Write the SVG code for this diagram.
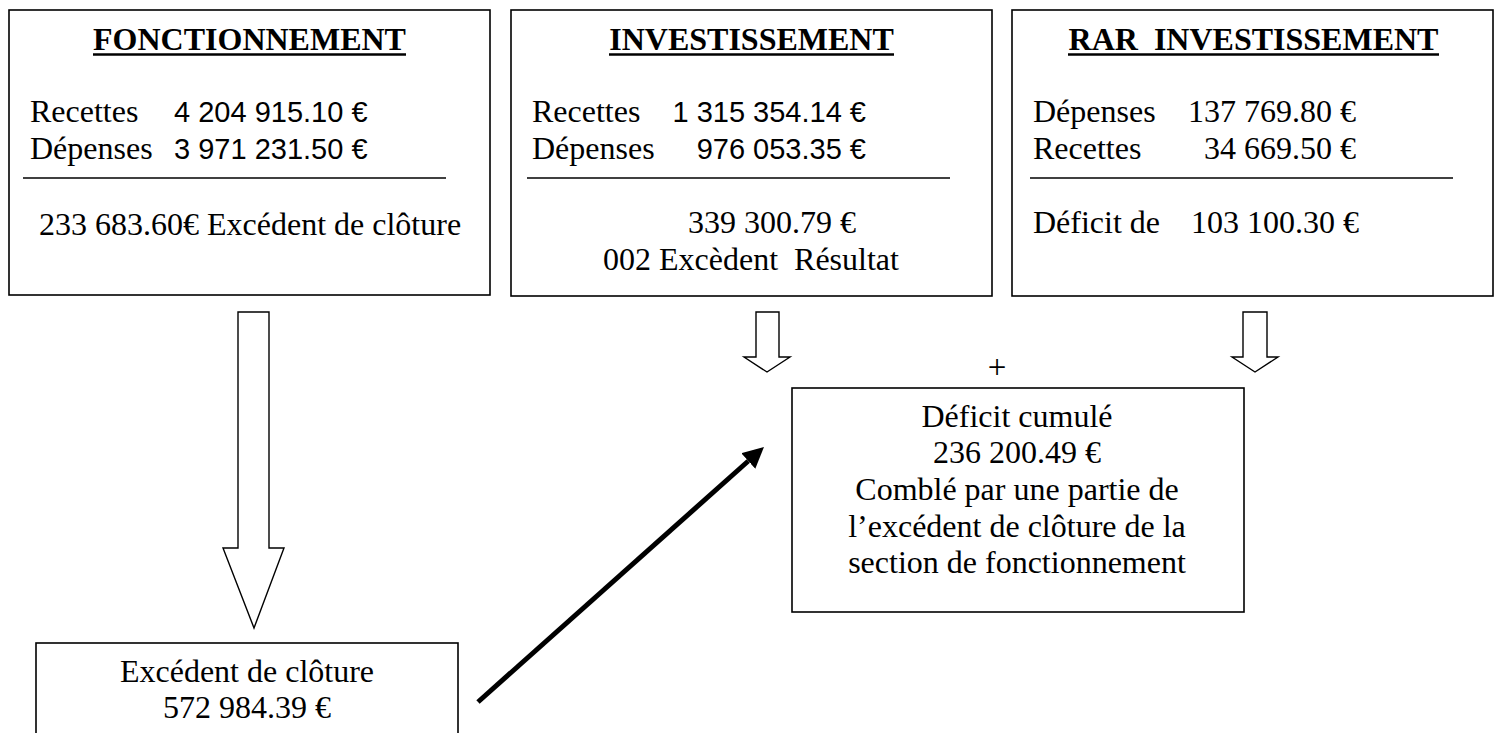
<svg xmlns="http://www.w3.org/2000/svg" width="1499" height="733" viewBox="0 0 1499 733">
<style>
.box{fill:#fff;stroke:#000;stroke-width:1.6}
.rule{stroke:#000;stroke-width:1.6}
.ul{stroke:#000;stroke-width:2.6}
.t{font-family:"Liberation Serif","Times New Roman",serif;font-size:32px;fill:#000;white-space:pre}
.b{font-weight:bold}
.s{font-family:"Liberation Sans",Arial,sans-serif;font-size:29px;fill:#000;white-space:pre}
.m{text-anchor:middle}
.e{text-anchor:end}
.hollow{fill:#fff;stroke:#000;stroke-width:1.4;stroke-linejoin:miter}
</style>
<defs>
<marker id="ah" markerWidth="21" markerHeight="21" refX="0" refY="10.5" orient="auto" markerUnits="userSpaceOnUse">
<path d="M0,0 L21,10.5 L0,21 Z" fill="#000"/>
</marker>
</defs>
<rect width="1499" height="733" fill="#fff"/>

<g id="fonctionnement">
<rect class="box" x="9" y="10" width="481" height="285"/>
<text class="t b m" x="249.5" y="50">FONCTIONNEMENT</text>
<line class="ul" x1="93" y1="54.5" x2="406" y2="54.5"/>
<text class="t" x="30" y="122">Recettes</text>
<text class="s" x="174" y="122">4 204 915.10 €</text>
<text class="t" x="30" y="159">Dépenses</text>
<text class="s" x="174" y="159">3 971 231.50 €</text>
<line class="rule" x1="23" y1="178" x2="446" y2="178"/>
<text class="t" x="39" y="235">233 683.60€ Excédent de clôture</text>
</g>

<g id="investissement">
<rect class="box" x="511" y="10" width="481" height="286"/>
<text class="t b m" x="751.5" y="50">INVESTISSEMENT</text>
<line class="ul" x1="609" y1="54.5" x2="894" y2="54.5"/>
<text class="t" x="532" y="122">Recettes</text>
<text class="s e" x="866" y="122">1 315 354.14 €</text>
<text class="t" x="532" y="159">Dépenses</text>
<text class="s e" x="866" y="159">976 053.35 €</text>
<line class="rule" x1="527" y1="178" x2="950" y2="178"/>
<text class="t e" x="856" y="233">339 300.79 €</text>
<text class="t" x="603" y="270">002 Excèdent  Résultat</text>
</g>

<g id="rar-investissement">
<rect class="box" x="1012" y="10" width="481" height="286"/>
<text class="t b m" x="1253.5" y="50">RAR  INVESTISSEMENT</text>
<line class="ul" x1="1068" y1="54.5" x2="1439" y2="54.5"/>
<text class="t" x="1033" y="122">Dépenses</text>
<text class="t e" x="1356" y="122">137 769.80 €</text>
<text class="t" x="1033" y="159">Recettes</text>
<text class="t e" x="1356" y="159">34 669.50 €</text>
<line class="rule" x1="1030" y1="178" x2="1453" y2="178"/>
<text class="t" x="1033" y="233">Déficit de</text>
<text class="t e" x="1359" y="233">103 100.30 €</text>
</g>

<g id="excedent-cloture">
<rect class="box" x="36" y="643" width="422" height="120"/>
<text class="t m" x="247" y="682">Excédent de clôture</text>
<text class="t m" x="247" y="718">572 984.39 €</text>
</g>

<g id="deficit-cumule">
<rect class="box" x="792" y="388" width="452" height="224"/>
<text class="t m" x="1017" y="427">Déficit cumulé</text>
<text class="t m" x="1017" y="463">236 200.49 €</text>
<text class="t m" x="1017" y="500">Comblé par une partie de</text>
<text class="t m" x="1017" y="537">l’excédent de clôture de la</text>
<text class="t m" x="1017" y="573">section de fonctionnement</text>
</g>

<g id="plus">
<text class="t m" x="997" y="378" style="font-size:33px">+</text>
</g>

<g id="connectors">
<path class="hollow" d="M238,312 L269,312 L269,548 L284,548 L254,628 L223,548 L238,548 Z"/>
<path class="hollow" d="M756,312 L779,312 L779,357 L790,357 L767,372 L744,357 L756,357 Z"/>
<path class="hollow" d="M1243,312 L1267,312 L1267,357 L1278,357 L1255,372 L1232,357 L1243,357 Z"/>
<line x1="478" y1="702" x2="748.3" y2="461" stroke="#000" stroke-width="5" marker-end="url(#ah)"/>
</g>
</svg>
